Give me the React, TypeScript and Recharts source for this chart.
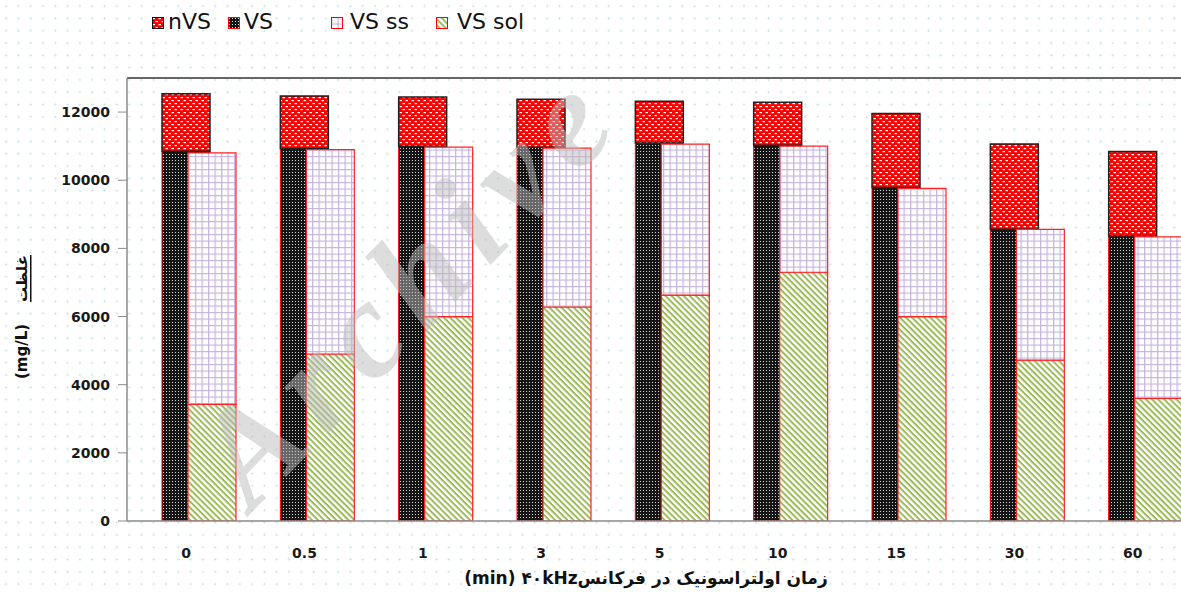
import React from 'react';
import { BarChart, Bar, XAxis, YAxis, ReferenceLine, Rectangle } from 'recharts';

// ultrasonic time (min) at 40 kHz
const times = ['0', '0.5', '1', '3', '5', '10', '15', '30', '60'];
const vsValues = [10850, 10930, 11000, 10970, 11090, 11030, 9790, 8560, 8360];
const nvsValues = [1690, 1540, 1440, 1410, 1230, 1260, 2170, 2500, 2480];
const vsSolValues = [3420, 4900, 6000, 6280, 6630, 7300, 6000, 4720, 3600];
const vsSsValues = [7380, 6000, 4970, 4660, 4430, 3700, 3760, 3840, 4740];
const yTicks = [0, 2000, 4000, 6000, 8000, 10000, 12000];

const legendItems = [
  { name: 'nVS', fill: 'url(#pNVS)', stroke: '#111', left: 152, text: 168 },
  { name: 'VS', fill: 'url(#pVS)', stroke: '#ff0000', left: 228, text: 244 },
  { name: 'VS ss', fill: 'url(#pSS)', stroke: '#ff0000', left: 331, text: 350 },
  { name: 'VS sol', fill: 'url(#pSol)', stroke: '#ff0000', left: 436, text: 457 },
];

const data = times.map((t, i) => ({
  time: t,
  vs: vsValues[i],
  nvs: nvsValues[i],
  sol: vsSolValues[i],
  ss: vsSsValues[i],
}));

const font = '"DejaVu Sans", sans-serif';

// Excel draws the first bar centred on the category, so nudge the pair right
const shifted = (props: any) => <Rectangle {...props} x={props.x + 13} />;

const Patterns = () => (
  <svg width={0} height={0} style={{ position: 'absolute' }}>
    <defs>
      <pattern id="pVS" width={3} height={3} patternUnits="userSpaceOnUse">
        <rect width={3} height={3} fill="#141414" />
        <rect x={1} y={1} width={1} height={1} fill="#d8d8d8" />
      </pattern>
      <pattern id="pNVS" width={6} height={6} patternUnits="userSpaceOnUse">
        <rect width={6} height={6} fill="#ff0000" />
        <rect x={0.5} y={1} width={2.5} height={1.2} fill="#fff" />
        <rect x={3.5} y={4} width={2.5} height={1.2} fill="#fff" />
      </pattern>
      <pattern id="pSS" width={6.5} height={6.5} patternUnits="userSpaceOnUse">
        <rect width={6.5} height={6.5} fill="#fff" />
        <path d="M0 0.6 H6.5 M0.6 0 V6.5" stroke="#c7b6dc" strokeWidth={1.3} />
      </pattern>
      <pattern id="pSol" width={4.3} height={4.3} patternUnits="userSpaceOnUse" patternTransform="rotate(45)">
        <rect width={4.3} height={4.3} fill="#fff" />
        <rect width={4.3} height={2} fill="#9bbb59" />
      </pattern>
    </defs>
  </svg>
);

const App = () => (
  <div
    style={{
      position: 'fixed',
      left: 0,
      top: 0,
      width: 1181,
      height: 592,
      overflow: 'hidden',
      background: '#fff',
      backgroundImage: 'radial-gradient(circle, #cfe3ea 0.9px, transparent 1.2px)',
      backgroundSize: '12.3px 12.3px',
      fontFamily: font,
    }}
  >
    <Patterns />
    {legendItems.map((item) => (
      <React.Fragment key={item.name}>
        <svg width={12} height={12} style={{ position: 'absolute', left: item.left, top: 17 }}>
          <rect x={0.5} y={0.5} width={11} height={11} fill={item.fill} stroke={item.stroke} strokeWidth={1} />
        </svg>
        <div
          style={{
            position: 'absolute',
            left: item.text,
            top: 8,
            fontSize: 22,
            lineHeight: '28px',
            color: '#111',
            whiteSpace: 'nowrap',
          }}
        >
          {item.name}
        </div>
      </React.Fragment>
    ))}
    <BarChart
      width={1210}
      height={592}
      data={data}
      margin={{ top: 78, right: 18, bottom: 31, left: 0 }}
      barSize={48}
      barGap={-22}
    >
      <XAxis
        dataKey="time"
        height={40}
        axisLine={{ stroke: '#8a8a8a', strokeWidth: 1.5 }}
        tickLine={false}
        tickSize={0}
        tickMargin={27}
        tick={{ fill: '#1a1a1a', fontSize: 14, fontWeight: 'bold', fontFamily: font }}
        interval={0}
      />
      <YAxis
        width={127}
        domain={[0, 13000]}
        ticks={yTicks}
        allowDataOverflow
        axisLine={{ stroke: '#8a8a8a', strokeWidth: 1.5 }}
        tickLine={{ stroke: '#8a8a8a' }}
        tickSize={9}
        tickMargin={8}
        tick={{ fill: '#1a1a1a', fontSize: 14, fontWeight: 'bold', fontFamily: font }}
      />
      <ReferenceLine y={13000} stroke="#333" strokeWidth={1.5} />
      <Bar dataKey="vs" name="VS" stackId="a" fill="url(#pVS)" stroke="#ff0000" strokeWidth={1} shape={shifted} isAnimationActive={false} />
      <Bar dataKey="nvs" name="nVS" stackId="a" fill="url(#pNVS)" stroke="#222" strokeWidth={1.5} shape={shifted} isAnimationActive={false} />
      <Bar dataKey="sol" name="VS sol" stackId="b" fill="url(#pSol)" stroke="#ff2222" strokeWidth={1.2} shape={shifted} isAnimationActive={false} />
      <Bar dataKey="ss" name="VS ss" stackId="b" fill="url(#pSS)" stroke="#ff2222" strokeWidth={1.2} shape={shifted} isAnimationActive={false} />
    </BarChart>
    <svg width={1181} height={592} style={{ position: 'absolute', left: 0, top: 0, pointerEvents: 'none' }}>
      <text
        x={0}
        y={0}
        transform="translate(22 317) rotate(-90)"
        textAnchor="middle"
        dominantBaseline="central"
        fontFamily={font}
        fontSize={15}
        fontWeight="bold"
        fill="#111"
      >
        (mg/L)
        <tspan dx={22} textDecoration="underline">غلظت</tspan>
      </text>
      <text
        x={646}
        y={578}
        textAnchor="middle"
        dominantBaseline="central"
        fontFamily={font}
        fontSize={17}
        fontWeight="bold"
        fill="#111"
      >
        (min) ۴۰kHzزمان اولتراسونیک در فرکانس
      </text>
      <text
        x={0}
        y={0}
        transform="translate(252 512) rotate(-46)"
        fontFamily='"Liberation Serif", serif'
        fontStyle="italic"
        fontWeight="bold"
        fontSize={138}
        letterSpacing={14}
        fill="#bcbcbc"
        fillOpacity={0.5}
      >
        Archive
      </text>
    </svg>
  </div>
);

export default App;
